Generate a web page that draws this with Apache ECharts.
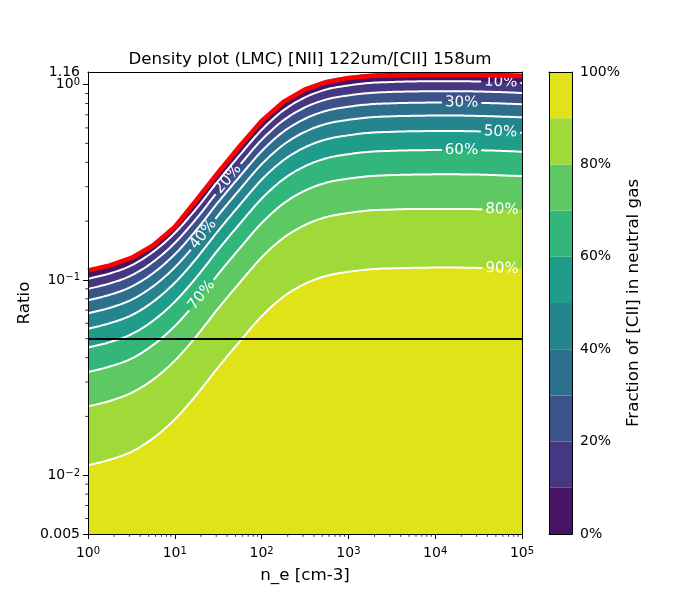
<!DOCTYPE html>
<html><head><meta charset="utf-8">
<script src="https://cdn.jsdelivr.net/npm/echarts@6/dist/echarts.min.js"></script>
<style>html,body{margin:0;padding:0;background:#fff}#chart{width:700px;height:600px}</style>
</head><body><div id="chart"></div>
<script>
// electron density grid (x)
const ne = [1, 1.78, 3.16, 5.62, 10, 17.8, 31.6, 56.2, 100, 178, 316, 562, 1000, 1780, 3160, 5620, 10000, 17800, 31600, 56200, 100000];
// red curve: ratio for fully ionized gas
const ratioIonized = [0.1117, 0.1185, 0.1295, 0.1500, 0.1865, 0.2565, 0.3547, 0.4849, 0.651, 0.8146, 0.9438, 1.031, 1.081, 1.107, 1.113, 1.120, 1.120, 1.120, 1.120, 1.113, 1.107];
// filled-contour boundaries, by fraction of [CII] in neutral gas
const contour0 = [0.1124, 0.1199, 0.1318, 0.1545, 0.1932, 0.2580, 0.3568, 0.4849, 0.6511, 0.8194, 0.9550, 1.050, 1.100, 1.133, 1.146, 1.153, 1.156, 1.156, 1.152, 1.144, 1.133];
const contour10 = [0.1012, 0.1079, 0.1186, 0.1391, 0.1739, 0.2322, 0.3211, 0.4364, 0.5860, 0.7375, 0.8595, 0.945, 0.990, 1.020, 1.031, 1.038, 1.040, 1.040, 1.037, 1.030, 1.020];
const contour20 = [0.0899, 0.0959, 0.1054, 0.1236, 0.1546, 0.2064, 0.2854, 0.3879, 0.5209, 0.6555, 0.764, 0.840, 0.880, 0.906, 0.917, 0.922, 0.925, 0.925, 0.922, 0.915, 0.906];
const contour30 = [0.0787, 0.0839, 0.0923, 0.1082, 0.1352, 0.1806, 0.2498, 0.3394, 0.4558, 0.5736, 0.6685, 0.735, 0.770, 0.793, 0.802, 0.807, 0.809, 0.809, 0.806, 0.801, 0.793];
const contour40 = [0.0674, 0.0719, 0.0791, 0.0927, 0.1159, 0.1548, 0.2141, 0.2909, 0.3907, 0.4916, 0.573, 0.630, 0.660, 0.680, 0.688, 0.692, 0.694, 0.694, 0.691, 0.686, 0.680];
const contour50 = [0.0562, 0.0600, 0.0659, 0.0773, 0.0966, 0.129, 0.1784, 0.2425, 0.3256, 0.4097, 0.4775, 0.525, 0.550, 0.567, 0.573, 0.577, 0.578, 0.578, 0.576, 0.572, 0.567];
const contour60 = [0.0450, 0.0480, 0.0527, 0.0618, 0.0773, 0.1032, 0.1427, 0.1940, 0.2604, 0.3278, 0.382, 0.420, 0.440, 0.453, 0.458, 0.461, 0.462, 0.462, 0.461, 0.458, 0.453];
const contour70 = [0.0337, 0.0360, 0.0395, 0.0464, 0.0580, 0.0774, 0.1070, 0.1455, 0.1953, 0.2458, 0.2865, 0.315, 0.330, 0.340, 0.344, 0.346, 0.347, 0.347, 0.346, 0.343, 0.340];
const contour80 = [0.0225, 0.0240, 0.0264, 0.0309, 0.0386, 0.0516, 0.0714, 0.0970, 0.1302, 0.1639, 0.191, 0.210, 0.220, 0.227, 0.229, 0.231, 0.231, 0.231, 0.230, 0.229, 0.227];
const contour90 = [0.01124, 0.01199, 0.01318, 0.01545, 0.01932, 0.0258, 0.03568, 0.04849, 0.06511, 0.08194, 0.0955, 0.105, 0.110, 0.1133, 0.1146, 0.1153, 0.1156, 0.1156, 0.1152, 0.1144, 0.1133];
const levels = [0, 10, 20, 30, 40, 50, 60, 70, 80, 90, 100];
const contourLabels = ['10%', '20%', '30%', '40%', '50%', '60%', '70%', '80%', '90%'];
const threshold = 0.05;
const xMinorTicks = [2,3,4,5,6,7,8,9,20,30,40,50,60,70,80,90,200,300,400,500,600,700,800,900,2000,3000,4000,5000,6000,7000,8000,9000,20000,30000,40000,50000,60000,70000,80000,90000];
const yMinorTicks = [0.006,0.007,0.008,0.009,0.02,0.03,0.04,0.05,0.06,0.07,0.08,0.09,0.2,0.3,0.4,0.5,0.6,0.7,0.8,0.9];

// styles / positions
const bandCurves = [contour0, contour10, contour20, contour30, contour40, contour50, contour60, contour70, contour80, contour90];
const contourCurves = [contour10, contour20, contour30, contour40, contour50, contour60, contour70, contour80, contour90];
const bandColors = ['#471365','#453781','#3b528b','#2d708e','#25858e','#1f9d8a','#32b67a','#5ec962','#a0da39','#dfe318'];
const labelAtNe = [56900, 41, 20200, 21.3, 56500, 20100, 20.4, 58900, 58900];
const FONT = '"DejaVu Sans", sans-serif';
const X_MIN = 1, X_MAX = 100000, Y_MIN = 0.005, Y_MAX = 1.16;

const measure = document.createElement('canvas').getContext('2d');
measure.font = '15px "DejaVu Sans"';

function logLabel(v) {
  const e = Math.log10(v);
  if (Math.abs(e - Math.round(e)) < 1e-6) {
    const r = Math.round(e);
    return '{b|10}{s|' + (r < 0 ? '\u2212' + (-r) : r) + '}';
  }
  return '{p|' + parseFloat(v.toPrecision(3)) + '}';
}
function maxOnlyLabel(v) {
  return v >= Y_MAX * 0.999 ? logLabel(v) : '';
}
const richLog = {
  b: {fontSize: 14, lineHeight: 14, verticalAlign: 'bottom', fontFamily: FONT, color: '#000'},
  s: {fontSize: 10, lineHeight: 10, verticalAlign: 'top', padding: [0, 0, 6, 0], fontFamily: FONT, color: '#000'},
  p: {fontSize: 14, lineHeight: 14, fontFamily: FONT, color: '#000'}
};

// smooth rendering of a curve (monotone cubic in pixel space) through its mapped data points
function smoothPixels(api, vals) {
  const P = ne.map((n, k) => api.coord([n, vals[k]]));
  const N = P.length, xs = P.map(p => p[0]), ys = P.map(p => p[1]);
  const d = [], m = new Array(N);
  for (let k = 0; k < N - 1; k++) d.push((ys[k+1] - ys[k]) / (xs[k+1] - xs[k]));
  m[0] = d[0]; m[N-1] = d[N-2];
  for (let k = 1; k < N - 1; k++) m[k] = (d[k-1] * d[k] <= 0) ? 0 : (d[k-1] + d[k]) / 2;
  for (let k = 0; k < N - 1; k++) {
    if (d[k] === 0) { m[k] = 0; m[k+1] = 0; continue; }
    const a = m[k] / d[k], b = m[k+1] / d[k], s = a * a + b * b;
    if (s > 9) { const t = 3 / Math.sqrt(s); m[k] = t * a * d[k]; m[k+1] = t * b * d[k]; }
  }
  const out = [];
  const steps = 10;
  for (let k = 0; k < N - 1; k++) {
    const h = xs[k+1] - xs[k];
    for (let j = 0; j < steps; j++) {
      const t = j / steps, t2 = t * t, t3 = t2 * t;
      out.push([xs[k] + t * h,
        (2*t3 - 3*t2 + 1) * ys[k] + (t3 - 2*t2 + t) * h * m[k] + (-2*t3 + 3*t2) * ys[k+1] + (t3 - t2) * h * m[k+1]]);
    }
  }
  out.push(P[N-1]);
  return out;
}

function bandItem(params, api) {
  const i = params.dataIndex;
  const top = smoothPixels(api, bandCurves[i]);
  const bottomY = api.coord([X_MIN, Y_MIN])[1];
  const pts = top.concat([[top[top.length-1][0], bottomY], [top[0][0], bottomY]]);
  return {type: 'polygon', shape: {points: pts},
    style: {fill: bandColors[i], stroke: bandColors[i], lineWidth: 0.5}};
}

function contourItem(params, api) {
  const i = params.dataIndex;
  const pts = smoothPixels(api, contourCurves[i]);
  const cum = [0];
  for (let k = 1; k < pts.length; k++) cum.push(cum[k-1] + Math.hypot(pts[k][0]-pts[k-1][0], pts[k][1]-pts[k-1][1]));
  const cx = api.coord([labelAtNe[i], 1])[0];
  let seg = 0;
  while (seg < pts.length - 2 && pts[seg+1][0] < cx) seg++;
  const a = pts[seg], b = pts[seg+1];
  const t = (cx - a[0]) / (b[0] - a[0]);
  const cy = a[1] + t * (b[1] - a[1]);
  const sc = cum[seg] + t * (cum[seg+1] - cum[seg]);
  const at = s => {
    let k = 0;
    while (k < cum.length - 2 && cum[k+1] < s) k++;
    const u = Math.max(0, Math.min(1, (s - cum[k]) / (cum[k+1] - cum[k])));
    return [pts[k][0] + u*(pts[k+1][0]-pts[k][0]), pts[k][1] + u*(pts[k+1][1]-pts[k][1])];
  };
  const w = measure.measureText(contourLabels[i]).width;
  const hw = w / 2 + 3;
  const s0 = sc - hw, s1 = sc + hw;
  const A = pts.filter((p, k) => cum[k] < s0); const pA = at(s0); A.push(pA);
  const pB = at(s1); const B = [pB].concat(pts.filter((p, k) => cum[k] > s1));
  const ang = Math.atan2(pB[1] - pA[1], pB[0] - pA[0]);
  const children = [];
  const ls = {stroke: '#fff', lineWidth: 2, fill: null, lineJoin: 'round'};
  if (A.length > 1) children.push({type: 'polyline', shape: {points: A}, style: ls});
  if (B.length > 1) children.push({type: 'polyline', shape: {points: B}, style: ls});
  children.push({type: 'text', x: cx, y: cy, rotation: -ang,
    style: {text: contourLabels[i], fill: '#fff', fontSize: 15, fontFamily: FONT, align: 'center', verticalAlign: 'middle'}});
  return {type: 'group', children};
}

function xMinorItem(params, api) {
  const p = api.coord([xMinorTicks[params.dataIndex], Y_MIN]);
  return {type: 'line', shape: {x1: p[0], y1: p[1], x2: p[0], y2: p[1] + 2.8}, style: {stroke: '#000', lineWidth: 0.8}};
}
function yMinorItem(params, api) {
  const p = api.coord([X_MIN, yMinorTicks[params.dataIndex]]);
  return {type: 'line', shape: {x1: p[0] - 2.8, y1: p[1], x2: p[0], y2: p[1]}, style: {stroke: '#000', lineWidth: 0.8}};
}

const series = [];
series.push({
  type: 'custom', name: 'bands', xAxisIndex: 0, yAxisIndex: 0, z: 1, silent: true, clip: true,
  data: bandCurves.map(() => [X_MIN, 1]),
  renderItem: bandItem
});
series.push({
  type: 'custom', name: 'contours', xAxisIndex: 0, yAxisIndex: 0, z: 3, silent: true,
  data: contourLabels.map((t, i) => [labelAtNe[i], 1]),
  renderItem: contourItem
});
series.push({
  type: 'line', name: 'ionized', xAxisIndex: 0, yAxisIndex: 0, z: 4, silent: true,
  data: ne.map((n, k) => [n, ratioIonized[k]]),
  showSymbol: false, symbol: 'none',
  lineStyle: {color: '#ff0000', width: 4.5},
  markLine: {silent: true, symbol: 'none', label: {show: false},
    lineStyle: {color: '#000', width: 2, type: 'solid'},
    data: [{yAxis: threshold}]}
});
series.push({type: 'custom', xAxisIndex: 0, yAxisIndex: 0, z: 6, silent: true, clip: false,
  data: xMinorTicks.map(v => [v, Y_MIN]), renderItem: xMinorItem});
series.push({type: 'custom', xAxisIndex: 0, yAxisIndex: 0, z: 6, silent: true, clip: false,
  data: yMinorTicks.map(v => [X_MIN, v]), renderItem: yMinorItem});
// colorbar
bandColors.forEach((c, i) => {
  series.push({type: 'bar', xAxisIndex: 2, yAxisIndex: 3, stack: 'cb', barWidth: '100%', silent: true,
    data: [levels[i+1] - levels[i]], itemStyle: {color: c}});
});

const lineOnly = {show: true, onZero: false, lineStyle: {color: '#000', width: 1}};
const nameStyle = {fontSize: 16.7, fontFamily: FONT, color: '#000'};

const option = {
  animation: false,
  backgroundColor: '#fff',
  title: {text: 'Density plot (LMC) [NII] 122um/[CII] 158um', left: 305, top: 46, textAlign: 'center',
    textStyle: {fontSize: 16.7, fontWeight: 'normal', fontFamily: FONT, color: '#000'}},
  grid: [
    {left: 88, right: 178, top: 72, bottom: 66, containLabel: false},
    {left: 549, right: 128, top: 72, bottom: 66, containLabel: false}
  ],
  xAxis: [
    {type: 'log', gridIndex: 0, min: X_MIN, max: X_MAX, logBase: 10, z: 10, position: 'bottom',
      axisLine: lineOnly, splitLine: {show: false},
      axisTick: {length: 5, lineStyle: {color: '#000', width: 1}},
      axisLabel: {margin: 12, formatter: logLabel, rich: richLog, showMinLabel: true, showMaxLabel: true},
      name: 'n_e [cm-3]', nameLocation: 'middle', nameGap: 33, nameMoveOverlap: false,
      nameTextStyle: nameStyle},
    {type: 'log', gridIndex: 0, min: X_MIN, max: X_MAX, logBase: 10, z: 10, position: 'top',
      axisLine: lineOnly, axisTick: {show: false}, axisLabel: {show: false}, splitLine: {show: false}},
    {type: 'category', gridIndex: 1, data: [''], z: 10, position: 'bottom',
      axisLine: lineOnly, axisTick: {show: false}, axisLabel: {show: false}},
    {type: 'category', gridIndex: 1, data: [''], z: 10, position: 'top',
      axisLine: lineOnly, axisTick: {show: false}, axisLabel: {show: false}}
  ],
  yAxis: [
    {type: 'log', gridIndex: 0, min: Y_MIN, max: Y_MAX, logBase: 10, z: 10, position: 'left',
      axisLine: lineOnly, splitLine: {show: false},
      axisTick: {length: 5, lineStyle: {color: '#000', width: 1}},
      axisLabel: {margin: 8, formatter: logLabel, rich: richLog, showMinLabel: true, showMaxLabel: false},
      name: 'Ratio', nameLocation: 'middle', nameGap: 55, nameRotate: 90, nameMoveOverlap: false,
      nameTextStyle: nameStyle},
    {type: 'log', gridIndex: 0, min: Y_MIN, max: Y_MAX, logBase: 10, z: 10, position: 'right',
      axisLine: lineOnly, axisTick: {show: false}, axisLabel: {show: false}, splitLine: {show: false}},
    {type: 'value', gridIndex: 1, min: 0, max: 100, z: 10, position: 'left',
      axisLine: lineOnly, axisTick: {show: false}, axisLabel: {show: false}, splitLine: {show: false}},
    {type: 'value', gridIndex: 1, min: 0, max: 100, interval: 20, z: 10, position: 'right',
      axisLine: lineOnly, splitLine: {show: false},
      axisTick: {length: 5, lineStyle: {color: '#000', width: 1}},
      axisLabel: {margin: 8, formatter: '{value}%', fontSize: 14, fontFamily: FONT, color: '#000', showMinLabel: true, showMaxLabel: true},
      name: 'Fraction of [CII] in neutral gas', nameLocation: 'middle', nameGap: 53, nameRotate: 90,
      nameTextStyle: nameStyle},
    {type: 'log', gridIndex: 0, min: Y_MIN, max: Y_MAX, logBase: 10, z: 10, position: 'left',
      axisLine: {show: false}, axisTick: {show: false}, splitLine: {show: false},
      axisLabel: {margin: 8, formatter: maxOnlyLabel, rich: richLog, showMinLabel: false, showMaxLabel: true}}
  ],
  series
};
const chart = echarts.init(document.getElementById('chart'), null, {renderer: 'canvas'});
chart.setOption(option);
</script>
</body></html>
